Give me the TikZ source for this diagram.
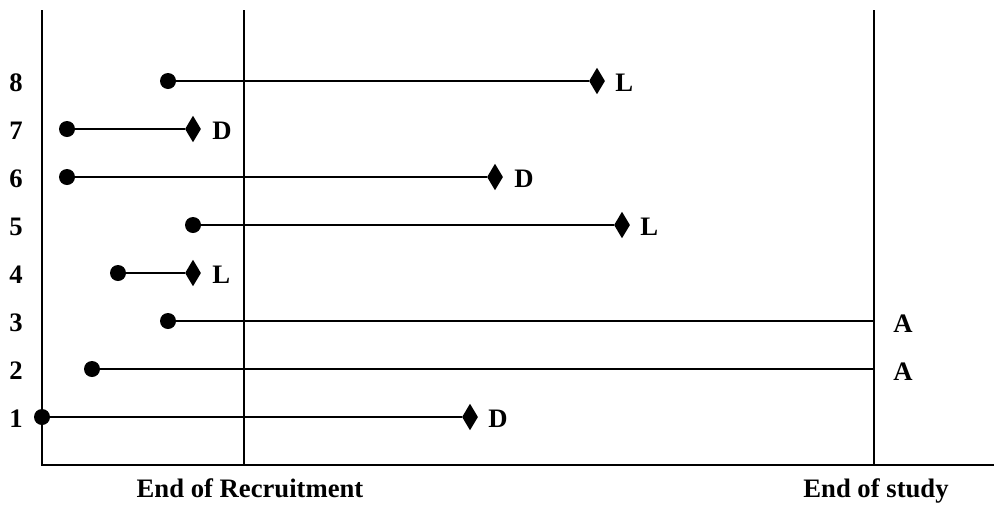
\documentclass[tikz,border=0pt]{standalone}
\usepackage{fontspec}
\setmainfont{Liberation Serif}
\usetikzlibrary{shapes.geometric}
\begin{document}
\begin{tikzpicture}[x=0.75pt,y=-0.75pt,
  ax/.style={line width=1.5pt},
  seg/.style={line width=2pt},
  dot/.style={circle,fill=black,inner sep=0pt,minimum size=12pt},
  dmd/.style={diamond,fill=black,inner sep=0pt,minimum width=12pt,minimum height=20pt},
  lbl/.style={font=\fontsize{20}{22}\selectfont\bfseries,inner sep=0pt},
]
\useasboundingbox (0,0) rectangle (994,504);
% axes
\coordinate (ytop) at (42,10);
\coordinate (orig) at (42,465);
\coordinate (xend) at (994,465);
\coordinate (rtop) at (244,10);
\coordinate (rbot) at (244,465);
\coordinate (stop) at (874,10);
\coordinate (sbot) at (874,465);
\draw[ax] (ytop) -- (orig) -- (xend);
\draw[ax] (rtop) -- (rbot);
\draw[ax] (stop) -- (sbot);
% row labels
\foreach \i/\y in {8/81,7/129,6/177,5/225,4/273,3/321,2/369,1/417}
  \node[lbl,anchor=base] (r\i) at (16,\y+10) {\i};
% row 8
\node[dot] (s8) at (168,81) {};
\node[dmd] (e8) at (597,81) {};
\draw[seg] (s8) -- (e8);
\node[lbl,anchor=base west] (t8) at (615,91) {L};
% row 7
\node[dot] (s7) at (67,129) {};
\node[dmd] (e7) at (193,129) {};
\draw[seg] (s7) -- (e7);
\node[lbl,anchor=base west] (t7) at (212,139) {D};
% row 6
\node[dot] (s6) at (67,177) {};
\node[dmd] (e6) at (495,177) {};
\draw[seg] (s6) -- (e6);
\node[lbl,anchor=base west] (t6) at (514,187) {D};
% row 5
\node[dot] (s5) at (193,225) {};
\node[dmd] (e5) at (622,225) {};
\draw[seg] (s5) -- (e5);
\node[lbl,anchor=base west] (t5) at (640,235) {L};
% row 4
\node[dot] (s4) at (118,273) {};
\node[dmd] (e4) at (193,273) {};
\draw[seg] (s4) -- (e4);
\node[lbl,anchor=base west] (t4) at (212,283) {L};
% row 3
\node[dot] (s3) at (168,321) {};
\coordinate (e3) at (874,321);
\draw[seg] (s3) -- (e3);
\node[lbl,anchor=base west] (t3) at (893,332) {A};
% row 2
\node[dot] (s2) at (92,369) {};
\coordinate (e2) at (874,369);
\draw[seg] (s2) -- (e2);
\node[lbl,anchor=base west] (t2) at (893,380) {A};
% row 1
\node[dot] (s1) at (42,417) {};
\node[dmd] (e1) at (470,417) {};
\draw[seg] (s1) -- (e1);
\node[lbl,anchor=base west] (t1) at (488,427) {D};
% bottom labels
\node[lbl,anchor=base] (rec) at (250,497) {End of Recruitment};
\node[lbl,anchor=base] (eos) at (876,497) {End of study};
\end{tikzpicture}
\end{document}
